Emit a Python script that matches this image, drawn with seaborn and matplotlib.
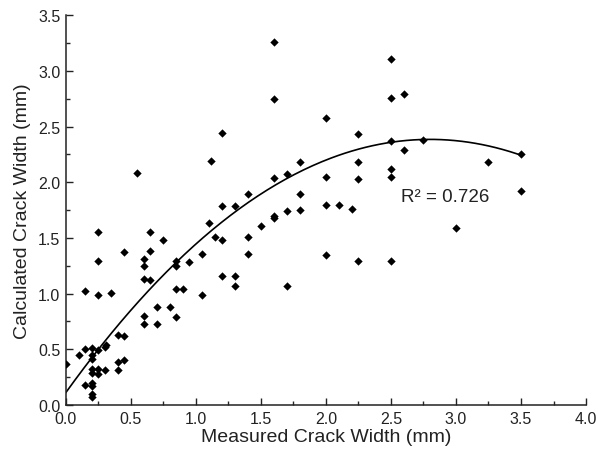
import numpy as np
import pandas as pd
import matplotlib
matplotlib.use("Agg")
import matplotlib.pyplot as plt
import seaborn as sns
from matplotlib.ticker import MultipleLocator, FormatStrFormatter

measured = [0.00, 0.10, 0.15, 0.15, 0.15, 0.20, 0.20, 0.20, 0.20, 0.20,
            0.20, 0.20, 0.20, 0.20, 0.25, 0.25, 0.25, 0.25, 0.25, 0.25,
            0.30, 0.30, 0.31, 0.35, 0.40, 0.40, 0.40, 0.45, 0.45, 0.45,
            0.55, 0.60, 0.60, 0.60, 0.60, 0.60, 0.65, 0.65, 0.65, 0.70,
            0.70, 0.75, 0.80, 0.85, 0.85, 0.85, 0.85, 0.90, 0.95, 1.05,
            1.05, 1.10, 1.12, 1.15, 1.20, 1.20, 1.20, 1.20, 1.30, 1.30,
            1.30, 1.40, 1.40, 1.40, 1.50, 1.60, 1.60, 1.60, 1.60, 1.60,
            1.70, 1.70, 1.70, 1.80, 1.80, 1.80, 2.00, 2.00, 2.00, 2.00,
            2.10, 2.20, 2.25, 2.25, 2.25, 2.25, 2.50, 2.50, 2.50, 2.50,
            2.50, 2.50, 2.60, 2.60, 2.75, 3.00, 3.25, 3.50, 3.50]
calculated = [0.37, 0.45, 0.50, 0.18, 1.02, 0.51, 0.45, 0.41, 0.32, 0.29,
              0.20, 0.17, 0.10, 0.07, 0.49, 0.32, 0.28, 0.99, 1.29, 1.55,
              0.31, 0.52, 0.54, 1.01, 0.63, 0.39, 0.31, 0.62, 0.40, 1.37,
              2.08, 1.31, 1.25, 1.13, 0.80, 0.73, 1.55, 1.38, 1.12, 0.88,
              0.73, 1.48, 0.88, 1.29, 1.25, 1.04, 0.79, 1.04, 1.28, 1.36,
              0.99, 1.63, 2.19, 1.51, 2.44, 1.79, 1.48, 1.16, 1.79, 1.16,
              1.07, 1.89, 1.51, 1.36, 1.61, 3.26, 2.75, 2.04, 1.70, 1.68,
              2.07, 1.74, 1.07, 2.18, 1.89, 1.75, 2.58, 2.05, 1.80, 1.35,
              1.80, 1.76, 2.43, 2.18, 2.03, 1.29, 3.11, 2.76, 2.37, 2.12,
              2.05, 1.29, 2.79, 2.29, 2.38, 1.59, 2.18, 2.25, 1.92]

# quadratic trend line as printed in the source chart: y = c0 + c1*x + c2*x^2
trend_coef = [0.111, 1.624, -0.290]
trend_range = [0.0, 3.5]

r2_label = "R\u00b2 = 0.726"
x_label = "Measured Crack Width (mm)"
y_label = "Calculated Crack Width (mm)"

df = pd.DataFrame({"measured": measured, "calculated": calculated})
xt = np.linspace(trend_range[0], trend_range[1], 200)
trend = pd.DataFrame({"x": xt,
                      "y": trend_coef[0] + trend_coef[1] * xt + trend_coef[2] * xt ** 2})

sns.set_theme(style="ticks")
plt.rcParams['font.family'] = ['Liberation Sans', 'DejaVu Sans']

fig = plt.figure(figsize=(5.98, 4.56), dpi=100)
ax = fig.add_axes([0.110, 0.1096, 0.870, 0.855])

sns.scatterplot(data=df, x="measured", y="calculated", marker="D", color="black",
                s=18, linewidth=0, ax=ax, zorder=3)
sns.lineplot(data=trend, x="x", y="y", color="black", linewidth=1.2, ax=ax,
             zorder=2)

ax.set_xlim(0, 4.0)
ax.set_ylim(0, 3.5)
ax.xaxis.set_major_locator(MultipleLocator(0.5))
ax.xaxis.set_minor_locator(MultipleLocator(0.25))
ax.yaxis.set_major_locator(MultipleLocator(0.5))
ax.yaxis.set_minor_locator(MultipleLocator(0.25))
ax.xaxis.set_major_formatter(FormatStrFormatter('%.1f'))
ax.yaxis.set_major_formatter(FormatStrFormatter('%.1f'))
ax.tick_params(which='major', direction='in', length=5, width=1.0, labelsize=11.5,
               colors='#222222', pad=4)
ax.tick_params(which='minor', direction='in', length=3, width=1.0)
for side in ['top', 'right']:
    ax.spines[side].set_visible(False)
for side in ['left', 'bottom']:
    ax.spines[side].set_linewidth(1.1)
    ax.spines[side].set_color('#222222')

ax.set_xlabel(x_label, fontsize=14, color='#222222', labelpad=2)
ax.set_ylabel(y_label, fontsize=14, color='#222222', labelpad=5)
ax.text(2.58, 1.87, r2_label, fontsize=13.5, color='#222222', va='center', ha='left')

fig.savefig("out.png", dpi=100)
